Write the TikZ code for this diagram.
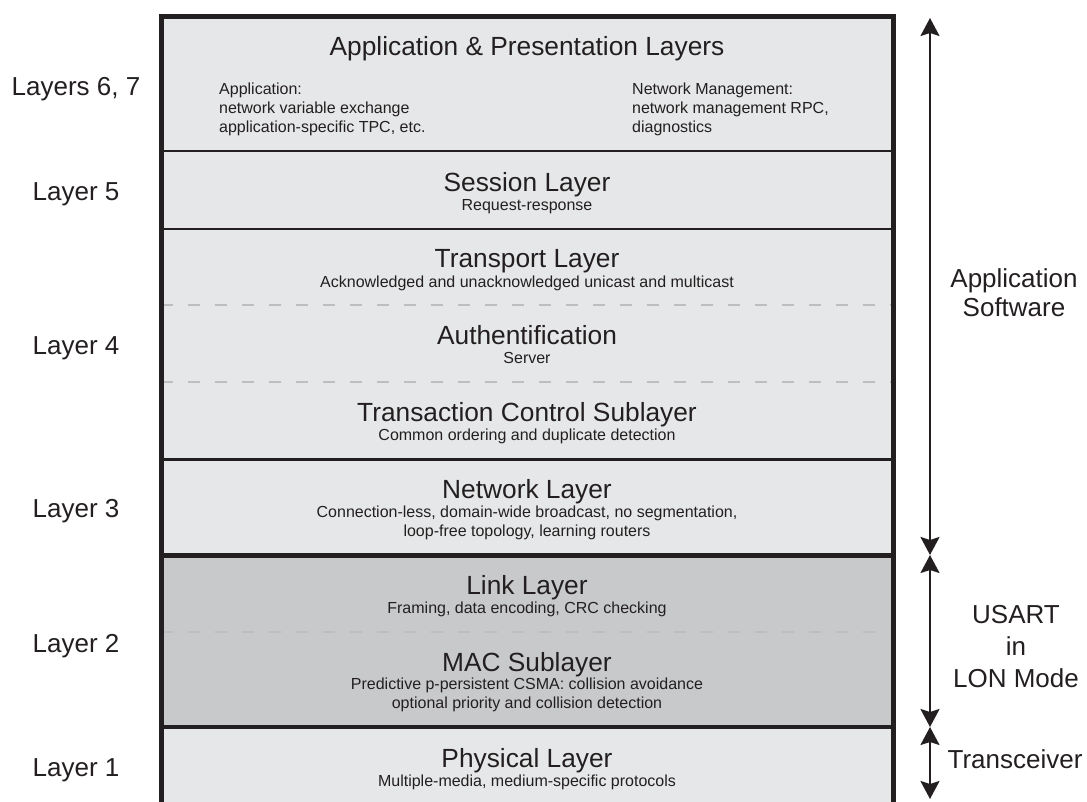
\documentclass[tikz,border=0pt]{standalone}
\usepackage{fontspec}
\setmainfont{Liberation Sans}
\usetikzlibrary{arrows.meta}
\definecolor{layerlight}{HTML}{E6E7E8}
\definecolor{layerdark}{HTML}{C8C9CB}
\definecolor{edge}{HTML}{231F20}
\definecolor{dashgray}{HTML}{BCBEC0}

\begin{document}
\begin{tikzpicture}[x=1pt,y=-1pt,
  title/.style={font=\fontsize{26.3}{30}\selectfont, text=edge, anchor=base, inner sep=0pt},
  sub/.style={font=\fontsize{16}{19}\selectfont, text=edge, anchor=base, inner sep=0pt, align=center},
  side/.style={font=\fontsize{26}{29}\selectfont, text=edge, anchor=base, inner sep=0pt, align=center},
  span/.style={edge, line width=2.2pt, {Stealth[length=18pt,width=19pt,inset=3pt]}-{Stealth[length=18pt,width=19pt,inset=3pt]}}]
\useasboundingbox (0,0) rectangle (1087,801);
\clip (0,0) rectangle (1087,801);
% layer fills
\fill[layerlight] (161,16) rectangle (893,555);
\fill[layerdark] (161,555) rectangle (893,727);
\fill[layerlight] (161,727) rectangle (893,810);
% sublayer borders
\draw[dashgray, line width=2pt, dash pattern=on 12pt off 15pt] (161,305) -- (893,305);
\draw[dashgray, line width=2pt, dash pattern=on 12pt off 15pt] (161,382) -- (893,382);
\draw[dashgray, line width=2pt, dash pattern=on 12pt off 15pt] (161,632) -- (893,632);
% layer borders
\draw[edge, line width=2.5pt] (161,151) -- (893,151);
\draw[edge, line width=2.5pt] (161,229) -- (893,229);
\draw[edge, line width=3pt] (161,459) -- (893,459);
\draw[edge, line width=5pt] (161,555) -- (893,555);
\draw[edge, line width=4.5pt] (161,727) -- (893,727);
\draw[edge, line width=5pt] (161,810) |- (893,16.5) -- (893,810);

% layer texts (multi-line nodes sit on their last line)
\node[title] (appt) at (527,55) {Application \& Presentation Layers};
\node[sub, anchor=base west, align=left] (apps) at (219,132) {Application:\\network variable exchange\\application-specific TPC, etc.};
\node[sub, anchor=base west, align=left] (mgmt) at (632,132) {Network Management:\\network management RPC,\\diagnostics};
\node[title] (sess) at (527,191) {Session Layer};
\node[sub] (sessd) at (527,210) {Request-response};
\node[title] (trans) at (527,267) {Transport Layer};
\node[sub] (transd) at (527,287) {Acknowledged and unacknowledged unicast and multicast};
\node[title] (auth) at (527,344) {Authentification};
\node[sub] (authd) at (527,363) {Server};
\node[title] (tcs) at (527,421) {Transaction Control Sublayer};
\node[sub] (tcsd) at (527,440) {Common ordering and duplicate detection};
\node[title] (net) at (527,498) {Network Layer};
\node[sub] (netd) at (527,536) {Connection-less, domain-wide broadcast, no segmentation,\\loop-free topology, learning routers};
\node[title] (link) at (527,594) {Link Layer};
\node[sub] (linkd) at (527,613) {Framing, data encoding, CRC checking};
\node[title] (mac) at (527,671) {MAC Sublayer};
\node[sub] (macd) at (527,708) {Predictive p-persistent CSMA: collision avoidance\\optional priority and collision detection};
\node[title] (phys) at (527,767) {Physical Layer};
\node[sub] (physd) at (527,786) {Multiple-media, medium-specific protocols};

% OSI layer numbers
\node[side] (l67) at (76,95) {Layers 6, 7};
\node[side] (l5) at (76,200) {Layer 5};
\node[side] (l4) at (76,354) {Layer 4};
\node[side] (l3) at (76,517) {Layer 3};
\node[side] (l2) at (76,652) {Layer 2};
\node[side] (l1) at (76,776) {Layer 1};

% implementation spans
\coordinate (swtop) at (930,18);
\coordinate (swbot) at (930,555);
\coordinate (usbot) at (930,727);
\coordinate (xcbot) at (930,799);
\draw[span] (swtop) -- (swbot);
\draw[span] (swbot) -- (usbot);
\draw[span] (usbot) -- (xcbot);
\node[side] (appsw) at (1014,316) {Application\\Software};
\node[side, font=\fontsize{26}{32}\selectfont] (usart) at (1016,687) {USART\\in\\LON Mode};
\node[side] (xcvr) at (1015,768) {Transceiver};
\end{tikzpicture}
\end{document}
